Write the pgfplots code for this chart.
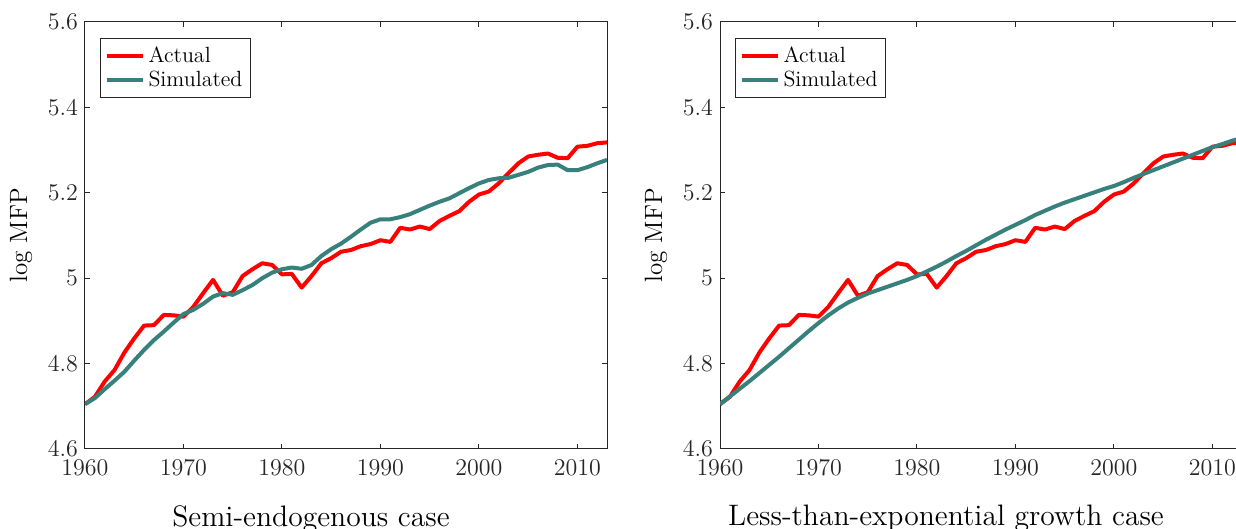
\documentclass[border=0pt]{standalone}
\usepackage{pgfplots}
\pgfplotsset{compat=1.18}
\usepackage{pgfplotstable}
\definecolor{simcol}{RGB}{55,128,124}
\definecolor{axgray}{RGB}{38,38,38}

\pgfplotstableread{
year actual simA simB
1960 4.705 4.705 4.705
1961 4.722 4.719 4.723
1962 4.758 4.740 4.741
1963 4.785 4.760 4.759
1964 4.826 4.781 4.778
1965 4.859 4.807 4.797
1966 4.889 4.832 4.816
1967 4.890 4.855 4.836
1968 4.914 4.875 4.856
1969 4.913 4.896 4.876
1970 4.910 4.916 4.895
1971 4.933 4.926 4.913
1972 4.965 4.940 4.929
1973 4.996 4.957 4.943
1974 4.959 4.965 4.954
1975 4.967 4.961 4.964
1976 5.005 4.972 4.972
1977 5.021 4.984 4.980
1978 5.035 5.000 4.988
1979 5.031 5.013 4.996
1980 5.009 5.021 5.005
1981 5.010 5.025 5.016
1982 4.978 5.022 5.027
1983 5.005 5.031 5.039
1984 5.035 5.052 5.052
1985 5.047 5.068 5.064
1986 5.062 5.081 5.077
1987 5.066 5.097 5.090
1988 5.075 5.114 5.102
1989 5.080 5.130 5.114
1990 5.089 5.138 5.125
1991 5.085 5.138 5.136
1992 5.118 5.143 5.148
1993 5.114 5.150 5.158
1994 5.121 5.160 5.168
1995 5.115 5.170 5.177
1996 5.134 5.179 5.185
1997 5.146 5.187 5.193
1998 5.157 5.199 5.201
1999 5.179 5.211 5.209
2000 5.196 5.222 5.216
2001 5.203 5.230 5.225
2002 5.222 5.234 5.235
2003 5.246 5.235 5.244
2004 5.269 5.242 5.253
2005 5.285 5.249 5.262
2006 5.289 5.259 5.271
2007 5.292 5.265 5.280
2008 5.282 5.266 5.289
2009 5.281 5.253 5.298
2010 5.308 5.253 5.307
2011 5.310 5.260 5.314
2012 5.316 5.269 5.322
2013 5.318 5.277 5.328
}\datatable

\pgfplotsset{
  mfpaxis/.style={
    scale only axis,
    width=261pt, height=213.5pt,
    xmin=1960, xmax=2013,
    ymin=4.6, ymax=5.6,
    xtick={1960,1970,1980,1990,2000,2010},
    ytick={4.6,4.8,5,5.2,5.4,5.6},
    yticklabels={4.6,4.8,5,5.2,5.4,5.6},
    /pgf/number format/1000 sep={},
    tick align=inside,
    major tick length=2.5pt,
    axis line style={axgray, line width=0.5pt},
    every tick/.style={axgray, line width=0.5pt},
    tick label style={font=\fontsize{12}{14}\selectfont, text=axgray},
    xticklabel style={yshift=-2pt},
    ylabel={log MFP},
    ylabel style={font=\fontsize{12.5}{14}\selectfont, yshift=1pt},
    xlabel style={font=\fontsize{14.8}{17}\selectfont, xshift=-17.5pt, yshift=-8pt},
    legend style={at={(7.5pt,205.5pt)}, anchor=north west, draw=axgray,
      line width=0.5pt,
      font=\fontsize{11}{13}\selectfont, inner sep=2pt,
      row sep=-1pt, legend cell align=left},
    legend image code/.code={\draw[line width=2pt] (0pt,0pt) -- (18pt,0pt);},
  }
}

\begin{document}
\begin{tikzpicture}
\begin{axis}[mfpaxis, at={(0,0)}, anchor=south west,
  xlabel={Semi-endogenous case}]
\addplot[red, line width=2pt, line join=round] table[x=year, y=actual] {\datatable};
\addlegendentry{Actual}
\addplot[simcol, line width=2pt, line join=round] table[x=year, y=simA] {\datatable};
\addlegendentry{Simulated}
\end{axis}
\begin{axis}[mfpaxis, at={(317.5pt,0)}, anchor=south west,
  xlabel={Less-than-exponential growth case}]
\addplot[red, line width=2pt, line join=round] table[x=year, y=actual] {\datatable};
\addlegendentry{Actual}
\addplot[simcol, line width=2pt, line join=round] table[x=year, y=simB] {\datatable};
\addlegendentry{Simulated}
\end{axis}
\pgfresetboundingbox
\useasboundingbox (-42.5pt,-40pt) rectangle (575.5pt,224.5pt);
\end{tikzpicture}
\end{document}
